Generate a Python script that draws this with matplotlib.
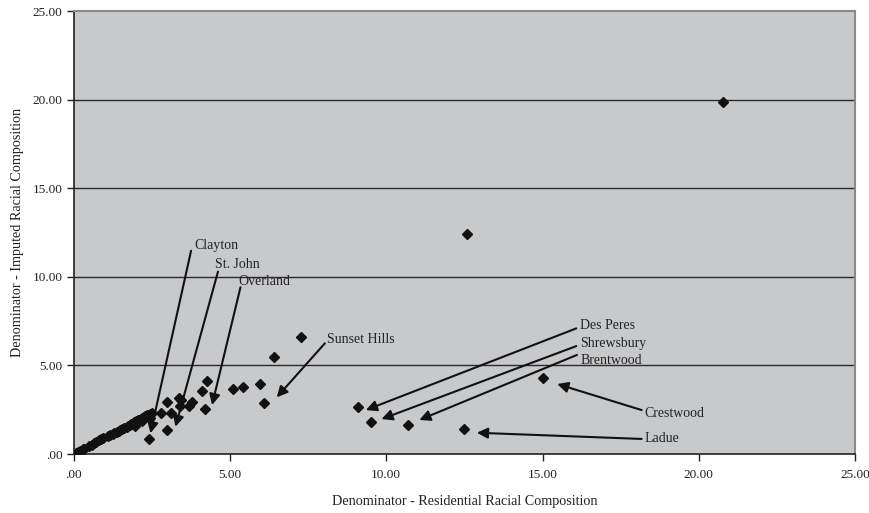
import matplotlib
matplotlib.use("Agg")
import matplotlib.pyplot as plt
from matplotlib.ticker import FuncFormatter

plt.rcParams['font.family'] = ['Liberation Serif', 'DejaVu Serif']

# residential (x) vs imputed (y) denominators
cluster_x = [0.08, 0.15, 0.22, 0.30, 0.35,
             0.50, 0.58, 0.65, 0.72, 0.80, 0.88, 0.95,
             1.10, 1.18, 1.25, 1.30, 1.38, 1.45, 1.50, 1.55, 1.62, 1.70,
             1.75, 1.80, 1.85, 1.90, 1.95, 2.00, 2.05, 2.10, 2.15, 2.20,
             2.25, 2.30, 2.35, 2.40, 2.45, 2.50, 1.98, 2.20, 2.45]
cluster_y = [0.05, 0.12, 0.18, 0.26, 0.30,
             0.45, 0.52, 0.60, 0.68, 0.78, 0.85, 0.90,
             1.00, 1.08, 1.12, 1.20, 1.25, 1.30, 1.38, 1.42, 1.45, 1.52,
             1.60, 1.62, 1.70, 1.72, 1.80, 1.85, 1.90, 1.92, 1.98, 2.02,
             2.08, 2.12, 2.18, 2.20, 2.26, 2.30, 1.60, 1.85, 2.05]

other_x = [2.40, 2.81, 2.99, 3.13, 2.99, 3.37, 3.44, 3.40, 3.69, 3.79,
           4.11, 4.27, 4.22, 5.11, 5.43, 5.96, 6.10, 6.41, 7.29,
           9.10, 9.53, 10.70, 12.48, 15.03, 12.60, 20.77]
other_y = [0.83, 2.33, 2.92, 2.30, 1.35, 3.18, 3.05, 2.71, 2.71, 2.95,
           3.57, 4.10, 2.52, 3.65, 3.76, 3.95, 2.90, 5.46, 6.62,
           2.64, 1.82, 1.64, 1.41, 4.31, 12.40, 19.85]

# label text position, line start, arrow tip
labels = ['Clayton', 'St. John', 'Overland', 'Sunset Hills', 'Des Peres',
          'Shrewsbury', 'Brentwood', 'Crestwood', 'Ladue']
text_xy = [(3.87, 11.74), (4.51, 10.72), (5.27, 9.72), (8.12, 6.49), (16.19, 7.28),
           (16.19, 6.25), (16.20, 5.30), (18.25, 2.30), (18.25, 0.85)]
start_xy = [(3.76, 11.47), (4.62, 10.29), (5.34, 9.41), (8.04, 6.25), (16.08, 7.09),
            (16.08, 6.09), (16.10, 5.59), (18.17, 2.48), (18.17, 0.85)]
tip_xy = [(2.46, 1.17), (3.26, 1.54), (4.43, 2.76), (6.50, 3.20), (9.35, 2.48),
          (9.85, 1.97), (11.06, 1.92), (15.47, 3.95), (12.90, 1.20)]

fig = plt.figure(figsize=(8.7, 5.13), dpi=100)
ax = fig.add_axes([0.0845, 0.115, 0.8985, 0.8635])
ax.set_facecolor('#c8c9cb')

ax.set_xlim(0, 25)
ax.set_ylim(0, 25)
ax.set_xticks([0, 5, 10, 15, 20, 25])
ax.set_yticks([0, 5, 10, 15, 20, 25])
fmt = FuncFormatter(lambda v, p: '.00' if v == 0 else '%.2f' % v)
ax.xaxis.set_major_formatter(fmt)
ax.yaxis.set_major_formatter(fmt)

for g in [5, 10, 15, 20]:
    ax.axhline(g, color='#2a2a2a', lw=1.0, zorder=1)

ax.plot(cluster_x, cluster_y, 'D', color='#111111', markersize=5.5, zorder=3)
ax.plot(other_x, other_y, 'D', color='#111111', markersize=5.5, zorder=3)

for name, t, s, e in zip(labels, text_xy, start_xy, tip_xy):
    ax.text(t[0], t[1], name, fontsize=10, va='center', ha='left', color='#222222')
    ax.annotate('', xy=e, xytext=s,
                arrowprops=dict(arrowstyle='-|>', color='#111111', lw=1.5,
                                mutation_scale=16, shrinkA=0, shrinkB=0),
                zorder=4)

for side in ['left', 'bottom']:
    ax.spines[side].set_color('#222222')
    ax.spines[side].set_linewidth(1.2)
for side in ['top', 'right']:
    ax.spines[side].set_color('#8a8a8a')
    ax.spines[side].set_linewidth(1.5)

ax.tick_params(direction='out', length=5, width=1, colors='#222222', labelsize=9.5)
ax.tick_params(axis='x', pad=6)
ax.tick_params(axis='y', pad=3)

ax.set_xlabel('Denominator - Residential Racial Composition', fontsize=10.2, labelpad=10, color='#222222')
ax.set_ylabel('Denominator - Imputed Racial Composition', fontsize=10.2, color='#222222')
ax.yaxis.set_label_coords(-0.063, 0.5)

fig.savefig('out.png', dpi=100)
